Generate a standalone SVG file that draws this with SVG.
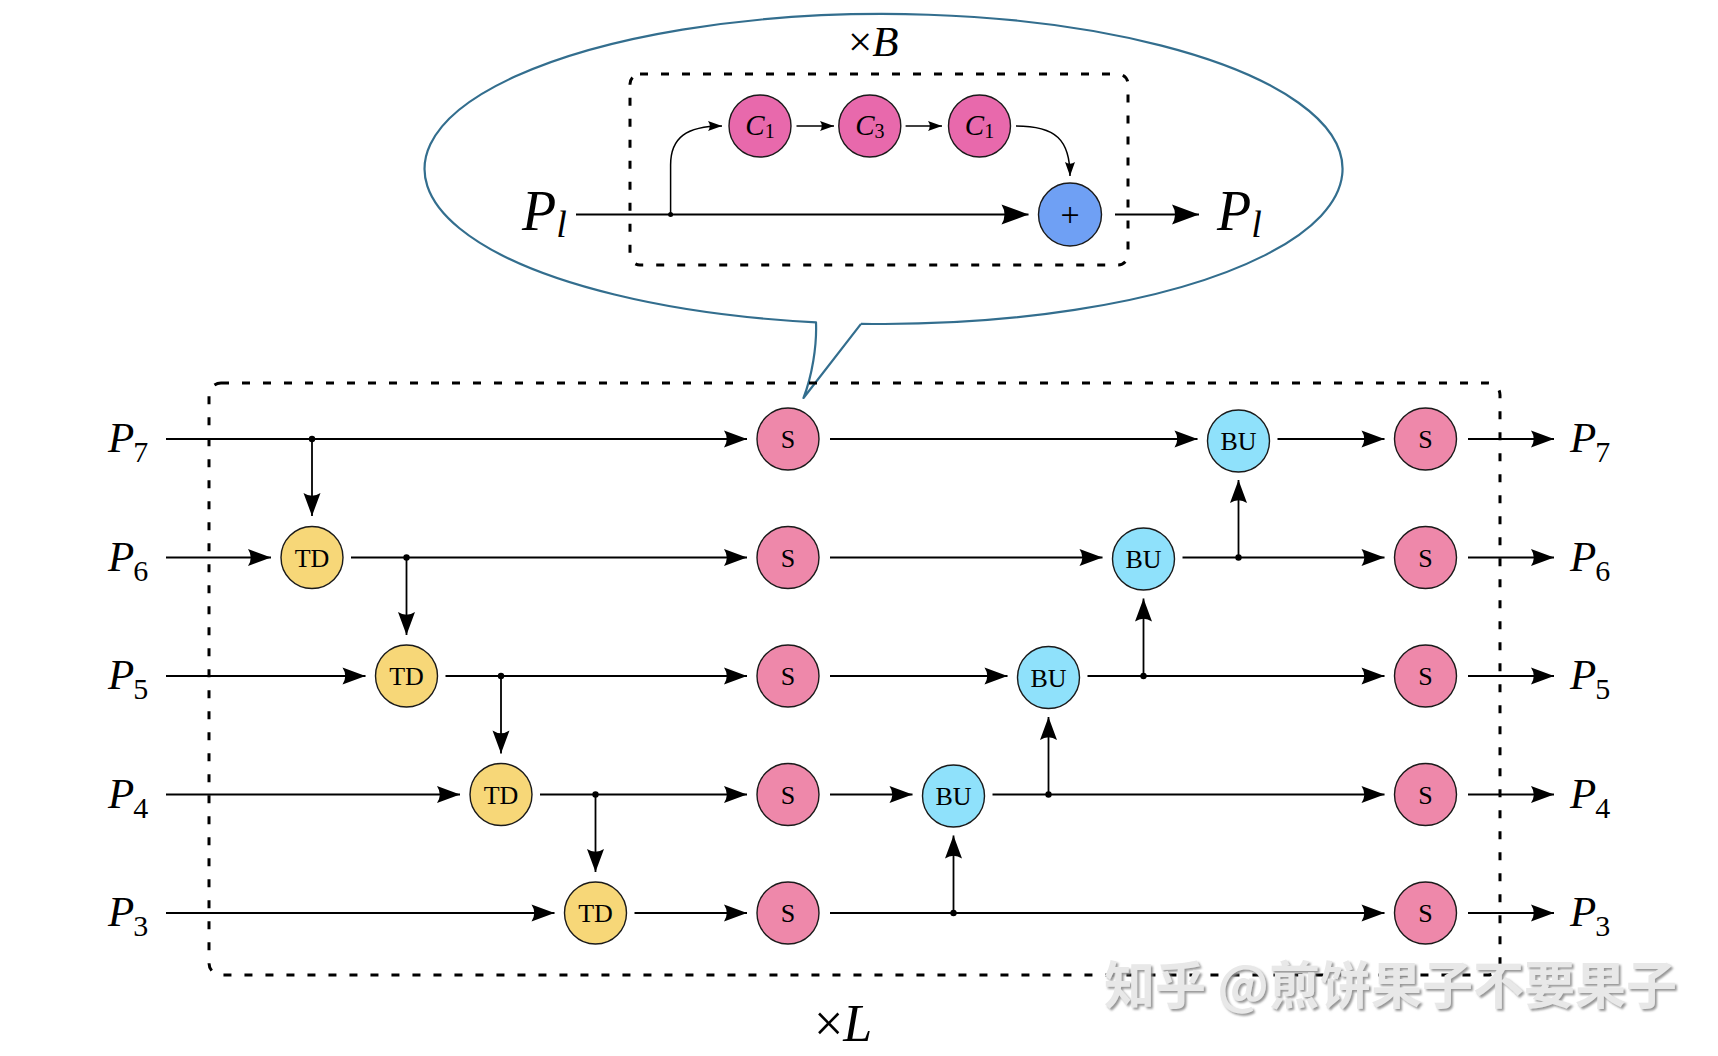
<svg xmlns="http://www.w3.org/2000/svg" width="1718" height="1056" viewBox="0 0 1718 1056">
<style>
.t{font-family:"Liberation Serif","DejaVu Serif",serif;fill:#000}
.it{font-style:italic}
.up{font-style:normal}
.ln{stroke:#000;stroke-width:1.8;fill:none}
.lnt{stroke:#000;stroke-width:1.5;fill:none}
.box{fill:none;stroke:#000;stroke-width:3;stroke-dasharray:8 13}
.nd{stroke:#1a1a1a;stroke-width:1.4}
.s{fill:#ee88aa}
.c{fill:#e869ac}
.td{fill:#f7d778}
.bu{fill:#8fe1fb}
.pl{fill:#6fa0f4}
.ntx{font-size:26px;text-anchor:middle}
.lbl{font-size:43px}
.sub{font-size:30px;font-style:normal}
.dot{fill:#000}
.ar{marker-end:url(#ah)}
.arb{marker-end:url(#ahb)}
.ars{marker-end:url(#ahs)}
</style>
<defs>
<marker id="ah" viewBox="-24 -9 25 18" refX="0" refY="0" markerWidth="25" markerHeight="18" markerUnits="userSpaceOnUse" orient="auto"><path d="M0,0 L-23,-8.5 Q-17.5,0 -23,8.5 Z" fill="#000"/></marker>
<marker id="ahb" viewBox="-28 -11 29 22" refX="0" refY="0" markerWidth="29" markerHeight="22" markerUnits="userSpaceOnUse" orient="auto"><path d="M0,0 L-27,-10 Q-21,0 -27,10 Z" fill="#000"/></marker>
<marker id="ahs" viewBox="-15 -6 16 12" refX="0" refY="0" markerWidth="16" markerHeight="12" markerUnits="userSpaceOnUse" orient="auto"><path d="M0,0 L-14,-5 Q-10.5,0 -14,5 Z" fill="#000"/></marker>
<filter id="wm" x="-5%" y="-20%" width="110%" height="140%"><feDropShadow dx="2" dy="2" stdDeviation="1" flood-color="#8a8a8a" flood-opacity="0.9"/></filter>
</defs>

<g id="callout">
<path d="M861 323.8 A459 155 0 1 0 816 322.3 C817 346 812 376 803.5 398 L861 323.8" fill="none" stroke="#336e8e" stroke-width="2.2" stroke-linejoin="round"/>
<rect x="630" y="74" width="498" height="191" rx="10" class="box"/>
<text x="848" y="56" class="t" font-size="43"><tspan class="up">×</tspan><tspan class="it">B</tspan></text>
</g>

<g id="main-box">
<rect x="209" y="383" width="1291" height="592" rx="12" class="box"/>
<text x="814" y="1041" class="t" font-size="52"><tspan class="up">×</tspan><tspan class="it">L</tspan></text>
</g>

<g id="connectors">
<path class="ln arb" d="M576 214.5 H1028.5"/>
<path class="ln arb" d="M1115 214.5 H1199"/>
<path class="lnt ars" d="M670.6 214.5 V165 C670.6 138 686 126 722 126"/>
<path class="lnt ars" d="M796.5 126 H834"/>
<path class="lnt ars" d="M905.6 126 H942"/>
<path class="lnt ars" d="M1016 126 C1056 126 1070 140 1070 176"/>
<circle class="dot" cx="670.6" cy="214.5" r="2.5"/>

<path class="ln ar" d="M166 439 H747"/>
<path class="ln ar" d="M166 557.5 H271"/>
<path class="ln ar" d="M166 676 H365.5"/>
<path class="ln ar" d="M166 794.5 H460"/>
<path class="ln ar" d="M166 913 H554.5"/>

<path class="ln ar" d="M351 557.5 H747"/>
<path class="ln ar" d="M445.5 676 H747"/>
<path class="ln ar" d="M540 794.5 H747"/>
<path class="ln ar" d="M634.5 913 H747"/>

<path class="ln ar" d="M312 439 V516"/>
<path class="ln ar" d="M406.5 557.5 V635"/>
<path class="ln ar" d="M501 676 V753.5"/>
<path class="ln ar" d="M595.5 794.5 V872"/>

<path class="ln ar" d="M830 439 H1197.5"/>
<path class="ln ar" d="M830 557.5 H1102.5"/>
<path class="ln ar" d="M830 676 H1007.5"/>
<path class="ln ar" d="M830 794.5 H912.5"/>
<path class="ln ar" d="M830 913 H1384.5"/>

<path class="ln ar" d="M1277.5 439 H1384.5"/>
<path class="ln ar" d="M1182.5 557.5 H1384.5"/>
<path class="ln ar" d="M1087.5 676 H1384.5"/>
<path class="ln ar" d="M992.5 794.5 H1384.5"/>

<path class="ln ar" d="M953.5 913 V835.5"/>
<path class="ln ar" d="M1048.5 794.5 V717"/>
<path class="ln ar" d="M1143.5 676 V598.5"/>
<path class="ln ar" d="M1238.5 557.5 V480"/>

<path class="ln ar" d="M1468 439 H1554"/>
<path class="ln ar" d="M1468 557.5 H1554"/>
<path class="ln ar" d="M1468 676 H1554"/>
<path class="ln ar" d="M1468 794.5 H1554"/>
<path class="ln ar" d="M1468 913 H1554"/>

<circle class="dot" cx="312" cy="439" r="3.2"/>
<circle class="dot" cx="406.5" cy="557.5" r="3.2"/>
<circle class="dot" cx="501" cy="676" r="3.2"/>
<circle class="dot" cx="595.5" cy="794.5" r="3.2"/>
<circle class="dot" cx="953.5" cy="913" r="3.2"/>
<circle class="dot" cx="1048.5" cy="794.5" r="3.2"/>
<circle class="dot" cx="1143.5" cy="676" r="3.2"/>
<circle class="dot" cx="1238.5" cy="557.5" r="3.2"/>
</g>

<g id="node-c1a"><circle class="nd c" cx="760" cy="126" r="31"/><text x="760" y="135" class="t it" font-size="29" text-anchor="middle">C<tspan class="up" font-size="20" dy="3">1</tspan></text></g>
<g id="node-c3"><circle class="nd c" cx="869.8" cy="126" r="31"/><text x="869.8" y="135" class="t it" font-size="29" text-anchor="middle">C<tspan class="up" font-size="20" dy="3">3</tspan></text></g>
<g id="node-c1b"><circle class="nd c" cx="979.5" cy="126" r="31"/><text x="979.5" y="135" class="t it" font-size="29" text-anchor="middle">C<tspan class="up" font-size="20" dy="3">1</tspan></text></g>
<g id="node-plus"><circle class="nd pl" cx="1070" cy="214.5" r="31.5"/><text x="1070" y="226" class="t" font-size="34" text-anchor="middle" fill="#1a1a3a">+</text></g>

<g id="label-pl-in"><text x="522" y="230" class="t it" font-size="56">P<tspan font-size="38" dy="7">l</tspan></text></g>
<g id="label-pl-out"><text x="1217" y="230" class="t it" font-size="56">P<tspan font-size="38" dy="7">l</tspan></text></g>

<g id="labels-in">
<text x="108" y="452" class="t it lbl">P<tspan class="sub" dx="-1" dy="10">7</tspan></text>
<text x="108" y="570.5" class="t it lbl">P<tspan class="sub" dx="-1" dy="10">6</tspan></text>
<text x="108" y="689" class="t it lbl">P<tspan class="sub" dx="-1" dy="10">5</tspan></text>
<text x="108" y="807.5" class="t it lbl">P<tspan class="sub" dx="-1" dy="10">4</tspan></text>
<text x="108" y="926" class="t it lbl">P<tspan class="sub" dx="-1" dy="10">3</tspan></text>
</g>
<g id="labels-out">
<text x="1570" y="452" class="t it lbl">P<tspan class="sub" dx="-1" dy="10">7</tspan></text>
<text x="1570" y="570.5" class="t it lbl">P<tspan class="sub" dx="-1" dy="10">6</tspan></text>
<text x="1570" y="689" class="t it lbl">P<tspan class="sub" dx="-1" dy="10">5</tspan></text>
<text x="1570" y="807.5" class="t it lbl">P<tspan class="sub" dx="-1" dy="10">4</tspan></text>
<text x="1570" y="926" class="t it lbl">P<tspan class="sub" dx="-1" dy="10">3</tspan></text>
</g>

<g id="node-td1"><circle class="nd td" cx="312" cy="557.5" r="31"/><text x="312" y="566.5" class="t ntx">TD</text></g>
<g id="node-td2"><circle class="nd td" cx="406.5" cy="676" r="31"/><text x="406.5" y="685" class="t ntx">TD</text></g>
<g id="node-td3"><circle class="nd td" cx="501" cy="794.5" r="31"/><text x="501" y="803.5" class="t ntx">TD</text></g>
<g id="node-td4"><circle class="nd td" cx="595.5" cy="913" r="31"/><text x="595.5" y="922" class="t ntx">TD</text></g>

<g id="node-s1-7"><circle class="nd s" cx="788" cy="439" r="31"/><text x="788" y="448" class="t ntx">S</text></g>
<g id="node-s1-6"><circle class="nd s" cx="788" cy="557.5" r="31"/><text x="788" y="566.5" class="t ntx">S</text></g>
<g id="node-s1-5"><circle class="nd s" cx="788" cy="676" r="31"/><text x="788" y="685" class="t ntx">S</text></g>
<g id="node-s1-4"><circle class="nd s" cx="788" cy="794.5" r="31"/><text x="788" y="803.5" class="t ntx">S</text></g>
<g id="node-s1-3"><circle class="nd s" cx="788" cy="913" r="31"/><text x="788" y="922" class="t ntx">S</text></g>

<g id="node-bu1"><circle class="nd bu" cx="953.5" cy="796" r="31"/><text x="953.5" y="805" class="t ntx">BU</text></g>
<g id="node-bu2"><circle class="nd bu" cx="1048.5" cy="677.5" r="31"/><text x="1048.5" y="686.5" class="t ntx">BU</text></g>
<g id="node-bu3"><circle class="nd bu" cx="1143.5" cy="559" r="31"/><text x="1143.5" y="568" class="t ntx">BU</text></g>
<g id="node-bu4"><circle class="nd bu" cx="1238.5" cy="441" r="31"/><text x="1238.5" y="450" class="t ntx">BU</text></g>

<g id="node-s2-7"><circle class="nd s" cx="1425.5" cy="439" r="31"/><text x="1425.5" y="448" class="t ntx">S</text></g>
<g id="node-s2-6"><circle class="nd s" cx="1425.5" cy="557.5" r="31"/><text x="1425.5" y="566.5" class="t ntx">S</text></g>
<g id="node-s2-5"><circle class="nd s" cx="1425.5" cy="676" r="31"/><text x="1425.5" y="685" class="t ntx">S</text></g>
<g id="node-s2-4"><circle class="nd s" cx="1425.5" cy="794.5" r="31"/><text x="1425.5" y="803.5" class="t ntx">S</text></g>
<g id="node-s2-3"><circle class="nd s" cx="1425.5" cy="913" r="31"/><text x="1425.5" y="922" class="t ntx">S</text></g>

<g id="watermark"><text x="1104" y="1004" font-family="'Noto Sans CJK SC','Noto Sans',sans-serif" font-size="51" font-weight="bold" fill="#e8e8e8" filter="url(#wm)">知乎 @煎饼果子不要果子</text></g>
</svg>
